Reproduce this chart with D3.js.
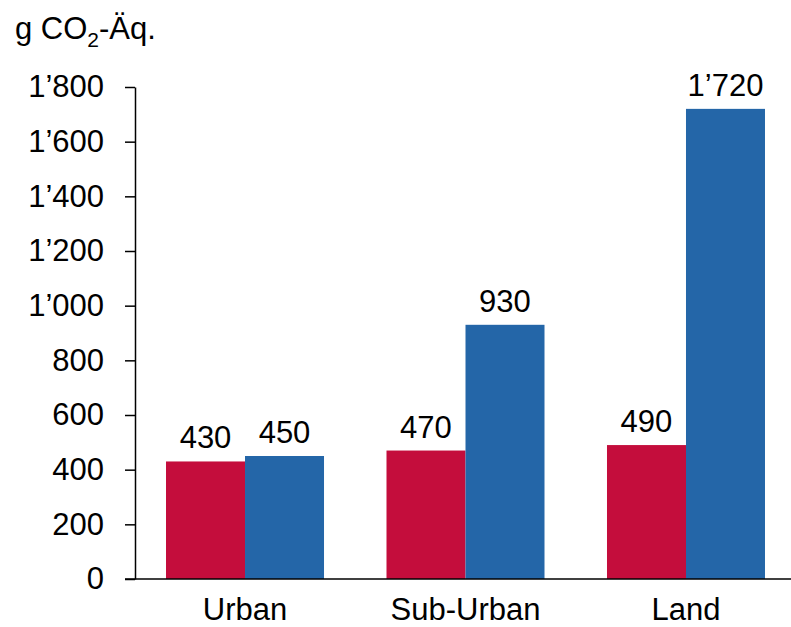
<!DOCTYPE html>
<html>
<head>
<meta charset="utf-8">
<script src="https://cdn.jsdelivr.net/npm/d3@7"></script>
<style>
  body { margin: 0; background: #fff; }
  svg { display: block; font-family: Arial, "Liberation Sans", sans-serif; }
</style>
</head>
<body>
<svg id="chart" width="791" height="627"></svg>
<script>
// chart data
const categories = ['Urban', 'Sub-Urban', 'Land'];
const seriesKeys = ['a', 'b'];
const valuesA = [430, 470, 490];
const valuesB = [450, 930, 1720];
const yTicks = [0, 200, 400, 600, 800, 1000, 1200, 1400, 1600, 1800];
const colors = ['#C40D3C', '#2466A8'];

const svg = d3.select('#chart');

const AXIS_X = 135;
const BASE_Y = 579;

const y = d3.scaleLinear().domain([0, 1800]).range([BASE_Y, 87]);

// band: step ~220.5, two bars of ~79px
const x = d3.scaleBand()
  .domain(categories)
  .range([125, 806])
  .paddingInner(0.2834)
  .paddingOuter(0.186);

const xSub = d3.scaleBand().domain(seriesKeys).range([0, x.bandwidth()]);

const fmt = v => d3.format(',')(v).replace(/,/g, '\u2019');

const rows = categories.map((c, i) => ({ cat: c, a: valuesA[i], b: valuesB[i] }));

// bars
const groups = svg.append('g').selectAll('g')
  .data(rows)
  .join('g')
  .attr('transform', d => `translate(${x(d.cat)},0)`);

groups.selectAll('rect')
  .data(d => seriesKeys.map((k, i) => ({ key: k, value: d[k], color: colors[i] })))
  .join('rect')
  .attr('x', d => xSub(d.key))
  .attr('y', d => y(d.value))
  .attr('width', xSub.bandwidth())
  .attr('height', d => BASE_Y - y(d.value))
  .attr('fill', d => d.color);

// value labels
groups.selectAll('text')
  .data(d => seriesKeys.map(k => ({ key: k, value: d[k] })))
  .join('text')
  .attr('x', d => xSub(d.key) + xSub.bandwidth() / 2)
  .attr('y', d => y(d.value) - 13)
  .attr('text-anchor', 'middle')
  .attr('font-size', 31)
  .attr('fill', '#000')
  .text(d => fmt(d.value));

// y axis
const yAxis = svg.append('g')
  .attr('transform', `translate(${AXIS_X},0)`)
  .call(d3.axisLeft(y).tickValues(yTicks).tickSize(10).tickSizeOuter(0).tickPadding(21).tickFormat(fmt));
yAxis.select('.domain').attr('stroke', '#000').attr('stroke-width', 1.5);
yAxis.selectAll('.tick line').attr('stroke', '#000').attr('stroke-width', 1.5);
yAxis.selectAll('.tick text')
  .attr('font-size', 31)
  .attr('font-family', 'Arial, "Liberation Sans", sans-serif')
  .attr('fill', '#000');

// x baseline
svg.append('line')
  .attr('x1', 125).attr('x2', 791)
  .attr('y1', BASE_Y).attr('y2', BASE_Y)
  .attr('stroke', '#000').attr('stroke-width', 1.5);

// category labels
svg.append('g').selectAll('text')
  .data(categories)
  .join('text')
  .attr('x', d => x(d) + x.bandwidth() / 2)
  .attr('y', 620)
  .attr('text-anchor', 'middle')
  .attr('font-size', 31)
  .attr('fill', '#000')
  .text(d => d);

// unit title
const title = svg.append('text')
  .attr('x', 15)
  .attr('y', 39)
  .attr('font-size', 31)
  .attr('fill', '#000');
title.append('tspan').text('g CO');
title.append('tspan').attr('font-size', 21).attr('dy', 8).text('2');
title.append('tspan').attr('dy', -8).text('-Äq.');
</script>
</body>
</html>
